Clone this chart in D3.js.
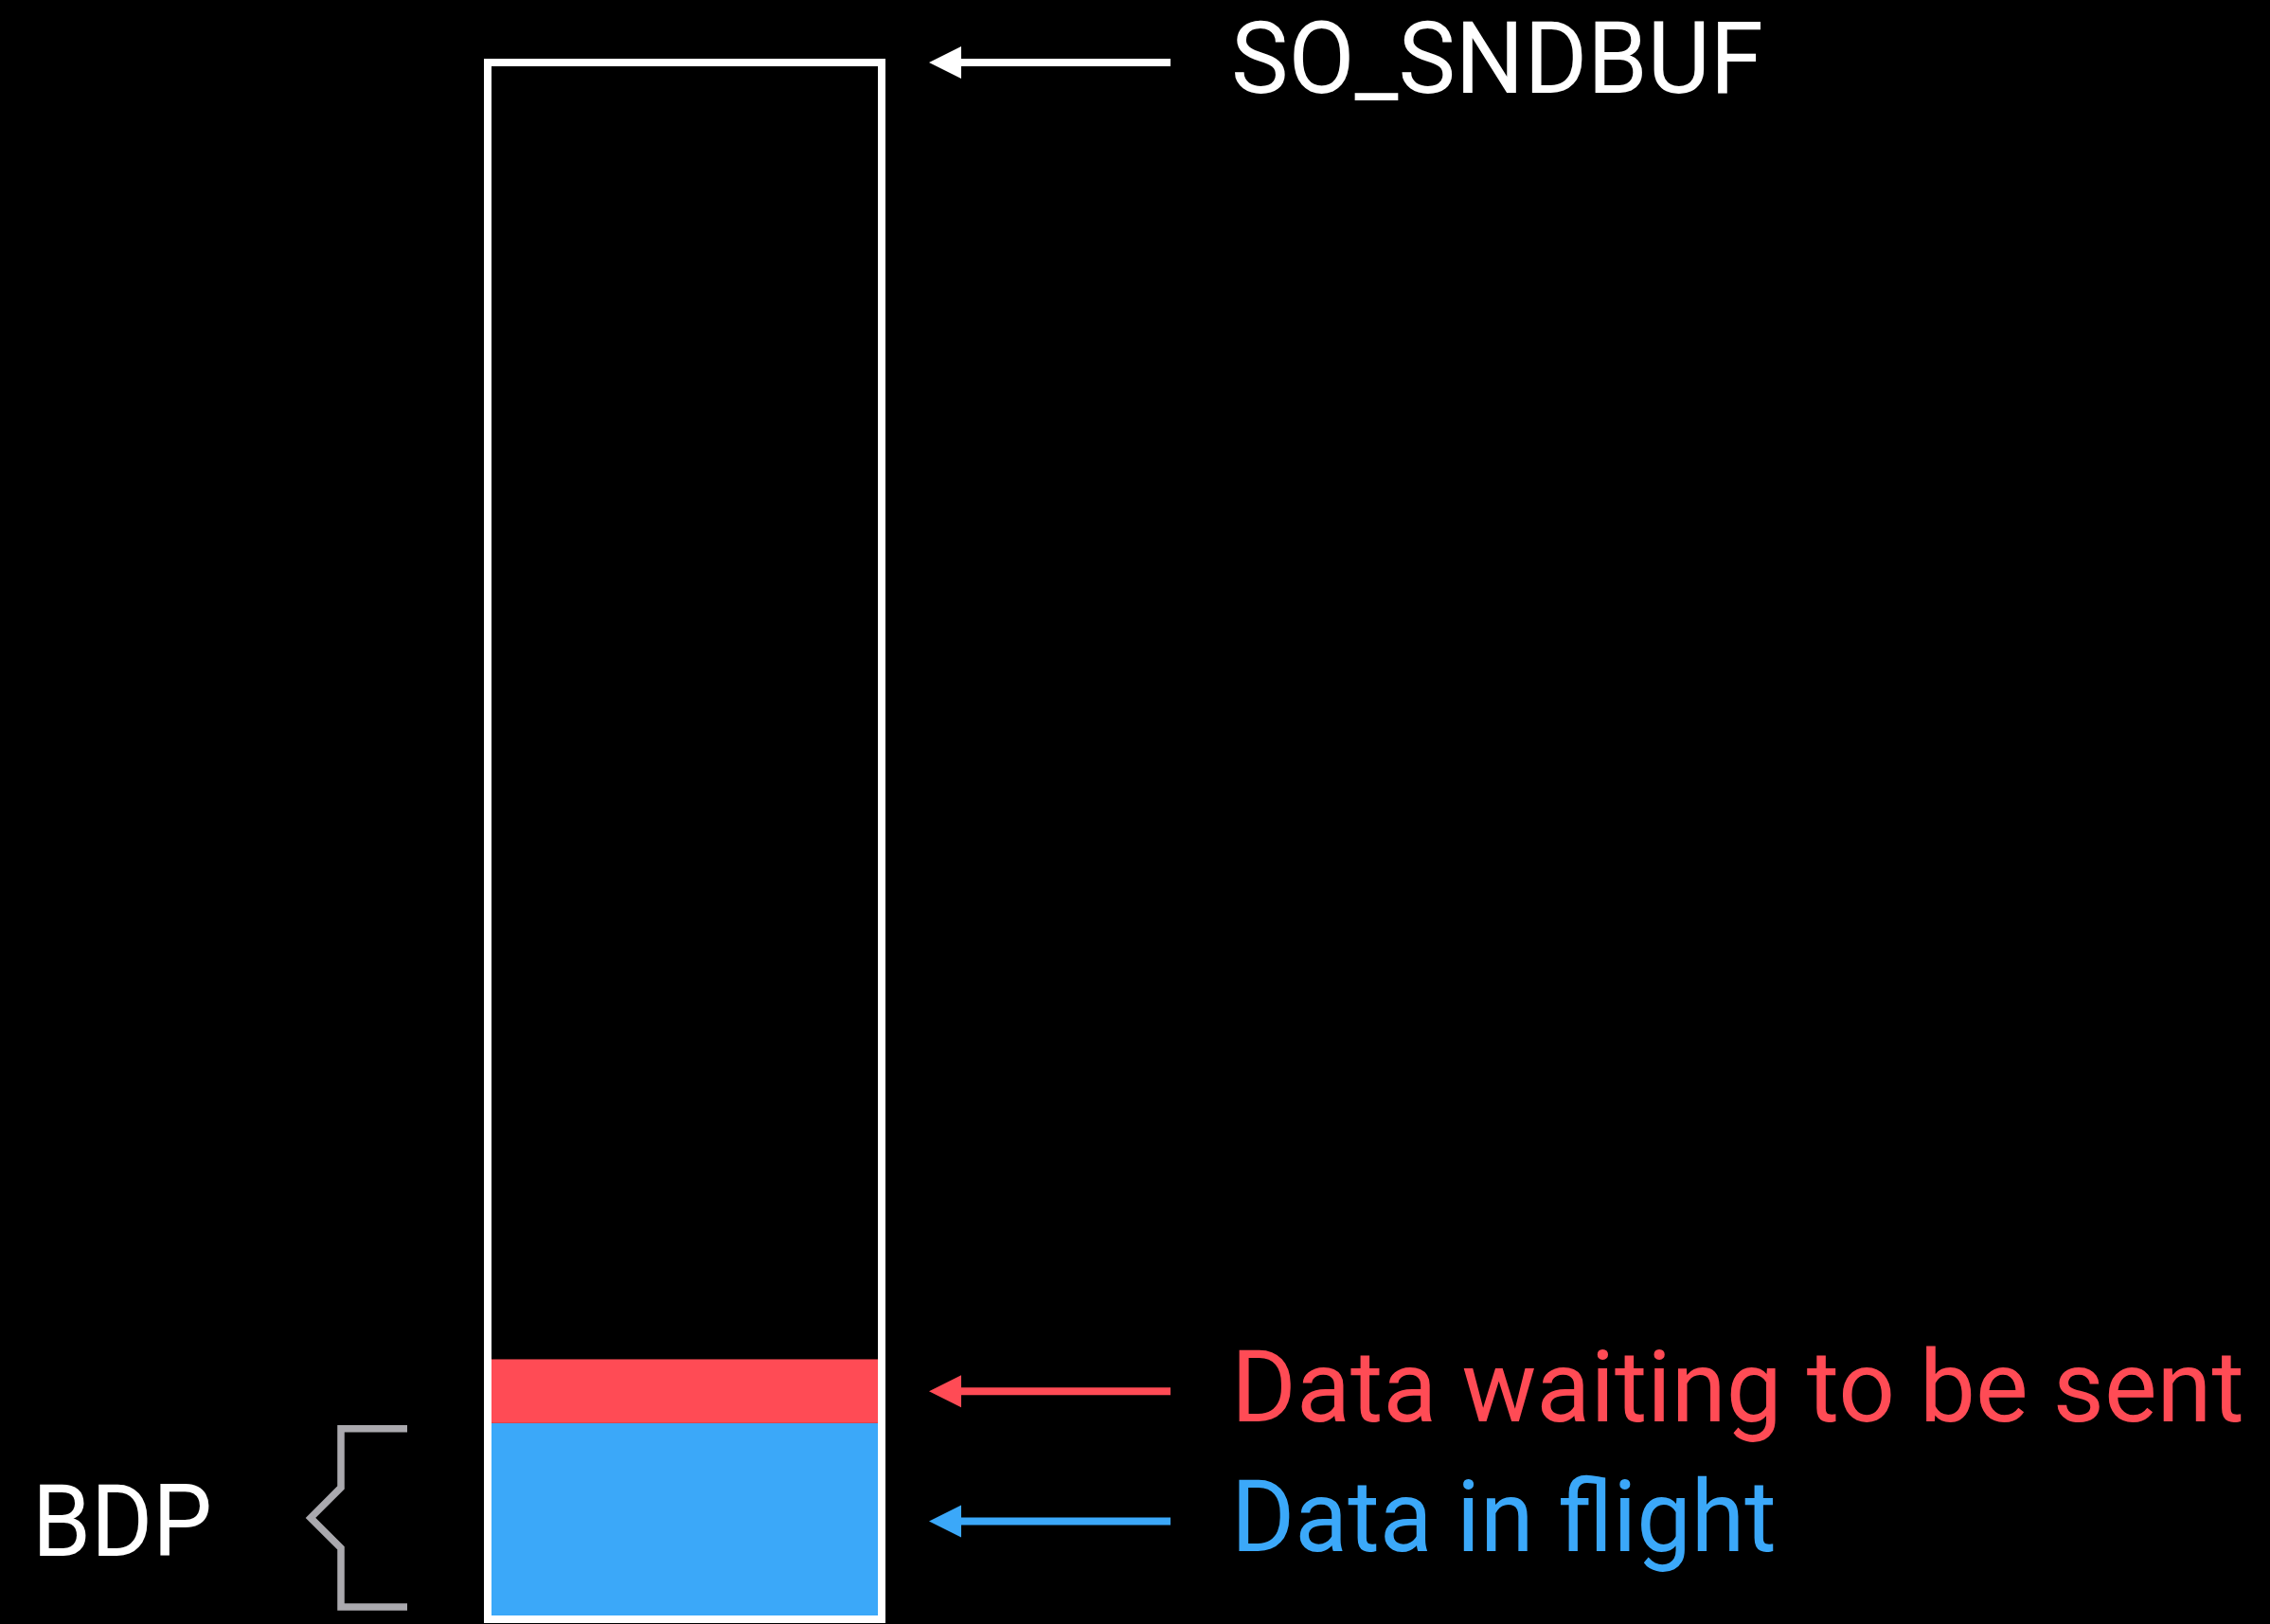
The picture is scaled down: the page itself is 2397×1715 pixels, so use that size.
<!DOCTYPE html>
<html>
<head>
<meta charset="utf-8">
<script src="https://cdn.jsdelivr.net/npm/d3@7"></script>
<style>
  html, body { margin: 0; padding: 0; background: #000; }
  svg { display: block; }
</style>
</head>
<body>
<script>
// ---- data ----
const bufferLabel = "SO_SNDBUF";
const bufferCapacity = 100;
const segments = ["Data in flight", "Data waiting to be sent"];
const segmentValues = [12.6, 4.1];
const braceLabel = "BDP";

// ---- styles ----
const W = 2397, H = 1715;
const colors = { "Data in flight": "#3ba8f9", "Data waiting to be sent": "#ff4b55" };
const fontFamily = "Roboto, 'Open Sans', sans-serif";
const fontSize = 105;

const svg = d3.select("body").append("svg").attr("width", W).attr("height", H);
svg.append("rect").attr("width", W).attr("height", H).attr("fill", "#000");

const x = d3.scaleLinear().domain([0, 1]).range([515, 931]);
const y = d3.scaleLinear().domain([0, bufferCapacity]).range([1710, 66]);

// stacked segments
let acc = 0;
const stack = segments.map((name, i) => {
  const d = { name, y0: acc, y1: acc + segmentValues[i] };
  acc += segmentValues[i];
  return d;
});

svg.selectAll("rect.seg").data(stack).join("rect")
  .attr("class", "seg")
  .attr("x", x(0)).attr("width", x(1) - x(0))
  .attr("y", d => y(d.y1)).attr("height", d => y(d.y0) - y(d.y1))
  .attr("fill", d => colors[d.name]);

// buffer outline
svg.append("rect")
  .attr("x", x(0)).attr("y", y(bufferCapacity))
  .attr("width", x(1) - x(0)).attr("height", y(0) - y(bufferCapacity))
  .attr("fill", "none").attr("stroke", "#fff").attr("stroke-width", 8);

// helper: place text with a horizontal fit to a target width
function fitText(sel, tx, ty, len) {
  const node = sel.node();
  const natural = node.getComputedTextLength();
  const sx = natural > 0 ? len / natural : 1;
  sel.attr("transform", `translate(${tx},${ty}) scale(${sx},1)`);
}

// arrows + labels
const labels = [
  { text: bufferLabel, yv: bufferCapacity, color: "#fff", len: 562 },
  ...stack.slice().reverse().map(d => ({ text: d.name, yv: (d.y0 + d.y1) / 2, color: colors[d.name], len: d.name === "Data in flight" ? 576 : 1070 }))
];

const arrowTip = 981, arrowEnd = 1236, headLen = 34, headHalf = 17;
const g = svg.selectAll("g.lab").data(labels).join("g").attr("class", "lab");
g.append("line")
  .attr("x1", arrowTip + headLen - 2).attr("x2", arrowEnd)
  .attr("y1", d => y(d.yv)).attr("y2", d => y(d.yv))
  .attr("stroke", d => d.color).attr("stroke-width", 8);
g.append("path")
  .attr("d", d => {
    const yy = y(d.yv);
    return `M${arrowTip},${yy} L${arrowTip + headLen},${yy - headHalf} L${arrowTip + headLen},${yy + headHalf} Z`;
  })
  .attr("fill", d => d.color);
g.append("text")
  .attr("fill", d => d.color)
  .attr("font-family", fontFamily).attr("font-size", fontSize)
  .text(d => d.text)
  .each(function(d) { fitText(d3.select(this), 1300, y(d.yv) + 32, d.len); });

// BDP brace
const inFlight = stack[0];
const bTop = y(inFlight.y1) + 6, bBot = y(inFlight.y0) - 13;
const bMid = (bTop + bBot) / 2;
const bx = 360, bRight = 430, bTip = 328, bNeck = 32;
svg.append("path")
  .attr("d", `M${bRight},${bTop} L${bx},${bTop} L${bx},${bMid - bNeck} L${bTip},${bMid} L${bx},${bMid + bNeck} L${bx},${bBot} L${bRight},${bBot}`)
  .attr("fill", "none").attr("stroke", "#aaa9ae").attr("stroke-width", 7.5)
  .attr("stroke-linejoin", "miter");

const bdp = svg.append("text")
  .attr("fill", "#fff")
  .attr("font-family", fontFamily).attr("font-size", fontSize)
  .text(braceLabel);
fitText(bdp, 34, bMid + 40, 190);
</script>
</body>
</html>
